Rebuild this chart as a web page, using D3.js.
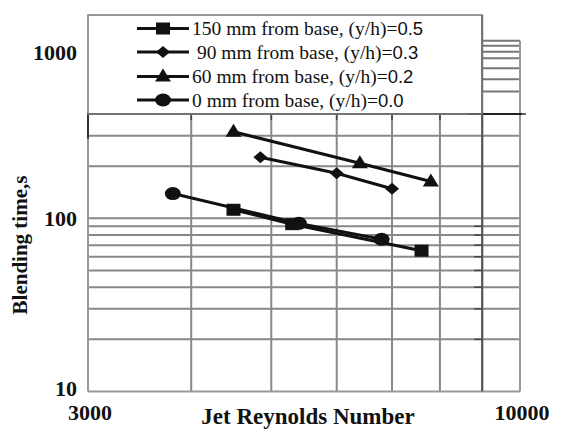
<!DOCTYPE html>
<html><head><meta charset="utf-8">
<script src="https://cdn.jsdelivr.net/npm/d3@7"></script>
<style>body{margin:0;background:#fff}svg{display:block}</style>
</head><body>
<svg id="c" width="565" height="439"></svg>
<script>
// ---- data ----
const reynoldsDomain = [3000, 10000];
const timeDomain = [10, 1000];
const xGrid = [4000, 5000, 6000, 7000, 8000, 9000];
const yGrid = [20, 30, 40, 50, 60, 70, 80, 90, 100, 200, 300, 400];
const yStrip = [540, 635, 735, 840, 915, 990, 1060];
const xTickLabels = [3000, 10000];
const yTickLabels = [10, 100, 1000];
const seriesNames = ["150 mm from base, (y/h)=", " 90 mm from base, (y/h)=", "60 mm from base, (y/h)=", "0 mm from base, (y/h)="];
const seriesRatio = ["0.5", "0.3", "0.2", "0.0"];
const seriesMarker = ["square", "diamond", "triangle", "circle"];
const s150 = [[4500, 112], [5300, 92.5], [7600, 65]];
const s90 = [[4850, 225], [6000, 182], [7000, 148]];
const s60 = [[4500, 316], [6400, 208], [7800, 163]];
const s0 = [[3800, 139], [5400, 93.5], [6800, 75.6]];
const seriesData = [s150, s90, s60, s0];

// ---- drawing ----
const svg = d3.select("#c");
const x = d3.scaleLog().domain(reynoldsDomain).range([88, 520]);
const y = d3.scaleLog().domain(timeDomain).range([391.5, 45.1]);
const gridTop = y(400), bottom = y(10);
const grey = "#888";

// horizontal grid
svg.append("g").selectAll("line").data(yGrid).join("line")
  .attr("x1", x(3000)).attr("x2", x(10000))
  .attr("y1", d => y(d)).attr("y2", d => y(d))
  .attr("stroke", grey).attr("stroke-width", 2);
// vertical grid
svg.append("g").selectAll("line").data(xGrid).join("line")
  .attr("x1", d => x(d)).attr("x2", d => x(d))
  .attr("y1", gridTop).attr("y2", bottom)
  .attr("stroke", grey).attr("stroke-width", 2);
// strip lines at right
svg.append("g").selectAll("line").data(yStrip).join("line")
  .attr("x1", x(9000)).attr("x2", x(10000))
  .attr("y1", d => y(d)).attr("y2", d => y(d))
  .attr("stroke", "#777").attr("stroke-width", 2);
// small ticks on top grid line
svg.append("g").selectAll("line").data(xGrid.slice(0, 5)).join("line")
  .attr("x1", d => x(d)).attr("x2", d => x(d))
  .attr("y1", gridTop).attr("y2", gridTop + 6)
  .attr("stroke", "#444").attr("stroke-width", 1.5);
// small ticks left of the 9000 line
svg.append("g").selectAll("line").data(yGrid.filter(d => d < 100)).join("line")
  .attr("x1", x(9000) - 8).attr("x2", x(9000))
  .attr("y1", d => y(d)).attr("y2", d => y(d))
  .attr("stroke", "#444").attr("stroke-width", 1.5);

// borders
const border = svg.append("g").attr("fill", "none");
border.append("line").attr("x1", x(3000)).attr("x2", x(3000)).attr("y1", gridTop).attr("y2", bottom)
  .attr("stroke", "#999").attr("stroke-width", 2);
border.append("line").attr("x1", x(3000)).attr("x2", x(3000)).attr("y1", gridTop - 1).attr("y2", y(300) + 3)
  .attr("stroke", "#333").attr("stroke-width", 2);
border.append("line").attr("x1", x(3000)).attr("x2", x(10000)).attr("y1", bottom).attr("y2", bottom)
  .attr("stroke", "#999").attr("stroke-width", 2);
border.append("line").attr("x1", x(10000)).attr("x2", x(10000)).attr("y1", y(1060)).attr("y2", bottom)
  .attr("stroke", "#999").attr("stroke-width", 2);
border.append("line").attr("x1", x(3000)).attr("x2", x(10000) + 6).attr("y1", gridTop).attr("y2", gridTop)
  .attr("stroke", "#666").attr("stroke-width", 2);
border.append("line").attr("x1", x(9000)).attr("x2", x(9000)).attr("y1", 15).attr("y2", bottom)
  .attr("stroke", "#555").attr("stroke-width", 2);
border.append("line").attr("x1", x(9000) - 14).attr("x2", x(10000) + 2).attr("y1", gridTop).attr("y2", gridTop)
  .attr("stroke", "#222").attr("stroke-width", 2);
// legend box
svg.append("rect").attr("x", x(3000)).attr("y", 15).attr("width", x(9000) - x(3000)).attr("height", gridTop - 15)
  .attr("fill", "none").attr("stroke", "#777").attr("stroke-width", 1.5);

// markers
function marker(g, type, cx, cy) {
  if (type === "square") g.append("rect").attr("x", cx - 7).attr("y", cy - 6).attr("width", 14).attr("height", 12).attr("fill", "#111");
  else if (type === "diamond") g.append("path").attr("d", `M${cx},${cy-6}L${cx+7},${cy}L${cx},${cy+6}L${cx-7},${cy}Z`).attr("fill", "#111");
  else if (type === "triangle") g.append("path").attr("d", `M${cx},${cy-8}L${cx+8},${cy+5}L${cx-8},${cy+5}Z`).attr("fill", "#111");
  else g.append("ellipse").attr("cx", cx).attr("cy", cy).attr("rx", 8).attr("ry", 6.5).attr("fill", "#111");
}
const line = d3.line().x(d => x(d[0])).y(d => y(d[1]));
seriesData.forEach((data, i) => {
  const g = svg.append("g");
  g.append("path").attr("d", line(data)).attr("fill", "none").attr("stroke", "#111").attr("stroke-width", 3);
  data.forEach(d => marker(g, seriesMarker[i], x(d[0]), y(d[1])));
});

// legend
const rowY = [28.5, 52, 76.5, 100];
seriesNames.forEach((name, i) => {
  const g = svg.append("g");
  g.append("line").attr("x1", 137).attr("x2", 189).attr("y1", rowY[i]).attr("y2", rowY[i])
    .attr("stroke", "#111").attr("stroke-width", 3);
  marker(g, seriesMarker[i], 163, rowY[i]);
  const t = g.append("text").attr("x", 192).attr("y", rowY[i] + 6.5)
    .attr("font-family", "Liberation Serif").attr("font-size", 19.5).attr("fill", "#111");
  t.append("tspan").attr("xml:space", "preserve").style("white-space", "pre").text(name);
  t.append("tspan").attr("font-family", "Liberation Sans").attr("font-size", 18.5).text(seriesRatio[i]);
});

// tick labels
const labelShift = {10: -3, 100: 0, 1000: 7};
const lab = svg.append("g").attr("font-family", "Liberation Serif").attr("font-weight", "bold").attr("font-size", 22).attr("fill", "#111");
lab.selectAll("text.y").data(yTickLabels).join("text").attr("class", "y")
  .attr("x", 77).attr("y", d => y(d) + labelShift[d]).attr("dy", "0.35em").attr("text-anchor", "end").text(d => d);
lab.selectAll("text.x").data(xTickLabels).join("text").attr("class", "x")
  .attr("x", d => x(d) + 2).attr("y", 420).attr("text-anchor", "middle").text(d => d);
// axis titles
lab.append("text").attr("x", 308).attr("y", 424).attr("text-anchor", "middle").attr("font-size", 23).text("Jet Reynolds Number");
lab.append("text").attr("transform", "translate(27,245) rotate(-90)").attr("text-anchor", "middle")
  .attr("font-size", 21).text("Blending time,s");
</script>
</body></html>
